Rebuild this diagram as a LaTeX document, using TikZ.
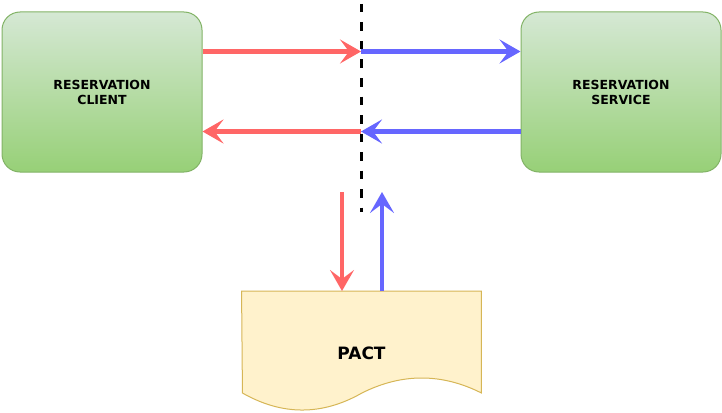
\documentclass[tikz,border=0pt]{standalone}
\usepackage{fontspec}
\setmainfont{DejaVu Sans}
\usepackage{tikz}
\usepackage{xcolor}
\usetikzlibrary{calc,arrows.meta}
\definecolor{boxtop}{HTML}{D5E8D4}
\definecolor{boxbottom}{HTML}{97D077}
\definecolor{boxline}{HTML}{82B366}
\definecolor{pactfill}{HTML}{FFF2CC}
\definecolor{pactline}{HTML}{D6B656}
\definecolor{hred}{HTML}{FF6666}
\definecolor{hblue}{HTML}{6666FF}
\tikzstyle{servicebox} =[
    draw=boxline,
    top color=boxtop,
    bottom color=boxbottom,
    line width=1pt,
    rounded corners=18pt,
    minimum width=200pt,
    minimum height=160pt,
    align=center,
    font=\fontsize{12.5}{15}\selectfont\bfseries
    ]
\tikzstyle{pactdoc} = [
    minimum width=239.5pt,
    minimum height=124pt,
    inner sep=0pt,
    font=\fontsize{17}{18}\selectfont\bfseries
    ]
\tikzstyle{flow} = [
    line width=4.5pt,
    -{Stealth[length=21pt,width=24pt,inset=9pt]}
    ]
\tikzstyle{redflow} = [flow, draw=hred]
\tikzstyle{blueflow} = [flow, draw=hblue]
\tikzstyle{boundary} = [
    draw=black,
    line width=3pt,
    dash pattern=on 8.5pt off 10pt
    ]

\begin{document}
\begin{tikzpicture}[x=1pt,y=-1pt]
\useasboundingbox (0,0) rectangle (722,412);
\node [servicebox] (client) at (102,92) {RESERVATION\\CLIENT};
\node [servicebox] (service) at (621,92) {RESERVATION\\SERVICE};
\node [pactdoc, anchor=north] (pact) at (361.5,291) {};
% document shape with a wavy bottom
\draw [pactline, fill=pactfill, line width=1pt] (pact.north west) -- (pact.north east) -- ++(0,102)
    .. controls +(-39.8,-20) and +(39.8,-20) .. ++(-119.5,0)
    .. controls +(-39.8,22.7) and +(39.8,22.7) .. ++(-119.5,0) -- cycle;
\node [pactdoc] at (pact.center) {PACT};

\coordinate (gateTop) at (361,51.5);
\coordinate (gateLow) at (361,131.5);
\coordinate (pactIn) at (342,192);
\coordinate (pactOut) at (382,192);
\coordinate (gateStart) at (361,4);
\coordinate (gateEnd) at (361,212);

\draw [redflow] (client.east |- gateTop) -- (gateTop);
\draw [blueflow] (gateTop) -- (service.west |- gateTop);
\draw [blueflow] (service.west |- gateLow) -- (gateLow);
\draw [redflow] (gateLow) -- (client.east |- gateLow);
\draw [redflow] (pactIn) -- (pactIn |- pact.north);
\draw [blueflow] (pactOut |- pact.north) -- (pactOut);
\draw [boundary] (gateStart) -- (gateEnd);
\end{tikzpicture}
\end{document}
